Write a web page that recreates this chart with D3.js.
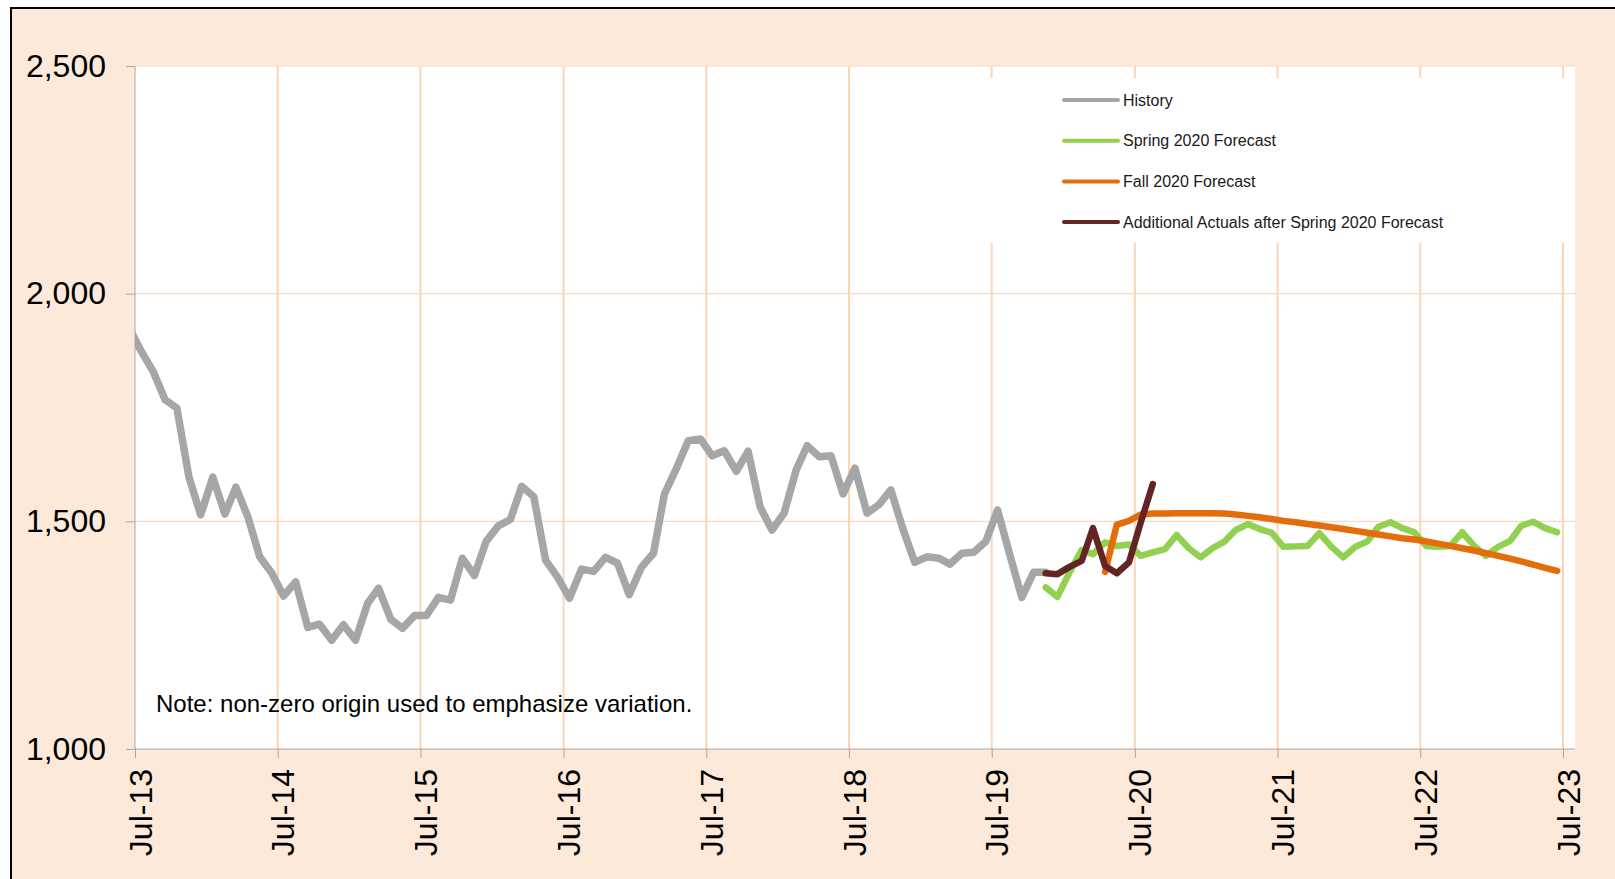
<!DOCTYPE html>
<html lang="en">
<head>
    <meta charset="UTF-8">
    <title>History and Forecasts</title>
    <script src="https://d3js.org/d3.v7.min.js"></script>
    <style>
        body { margin: 0; background: #fff; }
        svg { display: block; font-family: "Liberation Sans", Arial, sans-serif; }
        .axis path, .axis line { stroke: #a6a6a6; }
        .axis text { fill: #000; font-size: 32px; }
    </style>
</head>
<body>
    <svg width="1615" height="879"></svg>
    <script>
        // monthly values, history starts Jun-13 (first point falls left of the axis and is clipped)
        const historyStart = new Date(2013, 5, 1);
        const history = [1925, 1875, 1830, 1767, 1749, 1597, 1514, 1597, 1516, 1575, 1509, 1422,
            1386, 1336, 1367, 1267, 1274, 1239, 1273, 1239, 1320, 1353, 1285, 1265,
            1293, 1293, 1333, 1327, 1419, 1381, 1456, 1490, 1504, 1577, 1554, 1415,
            1377, 1331, 1395, 1390, 1421, 1408, 1339, 1399, 1430, 1560, 1617, 1677,
            1681, 1644, 1655, 1610, 1654, 1531, 1481, 1518, 1613, 1666, 1642, 1644,
            1560, 1617, 1518, 1537, 1569, 1483, 1410, 1422, 1419, 1406, 1430, 1432,
            1456, 1525, 1427, 1333, 1388, 1388];

        const springStart = new Date(2019, 10, 1);
        const spring = [1355, 1334, 1388, 1437, 1428, 1454, 1446, 1449, 1424, 1432, 1439, 1470,
            1441, 1421, 1441, 1456, 1481, 1494, 1483, 1475, 1444, 1445, 1446, 1474,
            1444, 1421, 1444, 1456, 1488, 1498, 1485, 1476, 1446, 1444, 1446, 1476,
            1446, 1424, 1444, 1457, 1490, 1499, 1485, 1476];

        const fallStart = new Date(2020, 3, 1);
        const fall = [1389, 1493, 1501, 1515, 1517, 1517, 1518, 1518, 1518, 1518, 1517, 1515,
            1512, 1509, 1505, 1501, 1498, 1494, 1491, 1487, 1483, 1479, 1475, 1471,
            1467, 1463, 1460, 1456, 1451, 1446, 1441, 1436, 1430, 1424, 1418, 1412,
            1405, 1398, 1391];

        const actualsStart = new Date(2019, 10, 1);
        const actuals = [1386, 1384, 1400, 1413, 1485, 1402, 1386, 1410, 1497, 1582];

        const seriesNames = ["History", "Spring 2020 Forecast", "Fall 2020 Forecast",
            "Additional Actuals after Spring 2020 Forecast"];
        const seriesColors = ["#a6a6a6", "#92d050", "#e46c0a", "#632523"];
        const seriesWidths = [7.5, 6.5, 6.5, 6.5];

        const yTicks = [1000, 1500, 2000, 2500];
        const xTickYears = [2013, 2014, 2015, 2016, 2017, 2018, 2019, 2020, 2021, 2022, 2023];
        const note = "Note: non-zero origin used to emphasize variation.";

        const svg = d3.select("svg");
        const plot = {left: 135, top: 66, right: 1575, bottom: 749};

        // outer frame
        svg.append("rect")
           .attr("x", 11).attr("y", 8)
           .attr("width", 1700).attr("height", 1000)
           .attr("fill", "#fde9d9")
           .attr("stroke", "#000")
           .attr("stroke-width", 2);

        svg.append("rect")
           .attr("x", plot.left).attr("y", plot.top)
           .attr("width", plot.right - plot.left).attr("height", plot.bottom - plot.top)
           .attr("fill", "#fff");

        const x = d3.scaleTime()
                    .domain([new Date(2013, 6, 1), new Date(2023, 6, 1)])
                    .range([plot.left, 1563]);

        const y = d3.scaleLinear()
                    .domain([1000, 2500])
                    .range([plot.bottom, plot.top]);

        const tickDates = xTickYears.map(yr => new Date(yr, 6, 1));

        // gridlines
        svg.append("g")
           .selectAll("line")
           .data(yTicks.slice(1))
           .join("line")
           .attr("x1", plot.left).attr("x2", plot.right)
           .attr("y1", d => y(d)).attr("y2", d => y(d))
           .attr("stroke", "#fbd9bd")
           .attr("stroke-width", 1.2);

        svg.append("g")
           .selectAll("line")
           .data(tickDates.slice(1))
           .join("line")
           .attr("x1", d => x(d)).attr("x2", d => x(d))
           .attr("y1", plot.top).attr("y2", plot.bottom)
           .attr("stroke", "#fcd5b5")
           .attr("stroke-width", 2);

        // legend box sits over the gridlines
        svg.append("rect")
           .attr("x", 965).attr("y", 78)
           .attr("width", plot.right - 965).attr("height", 165)
           .attr("fill", "#fff");

        // axes
        const yAxis = d3.axisLeft(y)
                        .tickValues(yTicks)
                        .tickFormat(d3.format(","))
                        .tickSize(9)
                        .tickPadding(20);

        svg.append("g")
           .attr("class", "axis")
           .attr("transform", `translate(${plot.left},0)`)
           .call(yAxis)
           .call(g => g.select(".domain").attr("d", `M0,${plot.top}V${plot.bottom}`));

        const xAxis = d3.axisBottom(x)
                        .tickValues(tickDates)
                        .tickFormat(d3.timeFormat("%b-%y"))
                        .tickSize(9)
                        .tickSizeOuter(0);

        svg.append("g")
           .attr("class", "axis")
           .attr("transform", `translate(0,${plot.bottom})`)
           .call(xAxis)
           .call(g => g.select(".domain").attr("d", `M${plot.left},0H${plot.right}`))
           .selectAll("text")
           .attr("transform", "rotate(-90)")
           .attr("x", -20)
           .attr("y", 0)
           .attr("dy", "0.5em")
           .style("text-anchor", "end");

        // lines
        svg.append("clipPath")
           .attr("id", "plot-clip")
           .append("rect")
           .attr("x", plot.left).attr("y", plot.top)
           .attr("width", plot.right - plot.left).attr("height", plot.bottom - plot.top);

        const toPoints = (start, values) =>
            values.map((v, i) => ({date: new Date(start.getFullYear(), start.getMonth() + i, 16), value: v}));

        const series = [
            toPoints(historyStart, history),
            toPoints(springStart, spring),
            toPoints(fallStart, fall),
            toPoints(actualsStart, actuals)
        ];

        const line = d3.line()
                       .x(d => x(d.date))
                       .y(d => y(d.value));

        svg.append("g")
           .attr("clip-path", "url(#plot-clip)")
           .selectAll("path")
           .data(series)
           .join("path")
           .attr("d", line)
           .attr("fill", "none")
           .attr("stroke", (d, i) => seriesColors[i])
           .attr("stroke-width", (d, i) => seriesWidths[i])
           .attr("stroke-linejoin", "round")
           .attr("stroke-linecap", "round");

        // legend
        const legend = svg.append("g")
                          .selectAll("g")
                          .data(seriesNames)
                          .join("g")
                          .attr("transform", (d, i) => `translate(1064,${100 + i * 40.7})`);

        legend.append("line")
              .attr("x1", 0).attr("x2", 54)
              .attr("stroke", (d, i) => seriesColors[i])
              .attr("stroke-width", 4)
              .attr("stroke-linecap", "round");

        legend.append("text")
              .attr("x", 59)
              .attr("dy", "0.35em")
              .attr("font-size", 16)
              .attr("fill", "#1a1a1a")
              .text(d => d);

        svg.append("text")
           .attr("x", 156)
           .attr("y", 712)
           .attr("font-size", 24)
           .attr("fill", "#000")
           .text(note);
    </script>
</body>
</html>
